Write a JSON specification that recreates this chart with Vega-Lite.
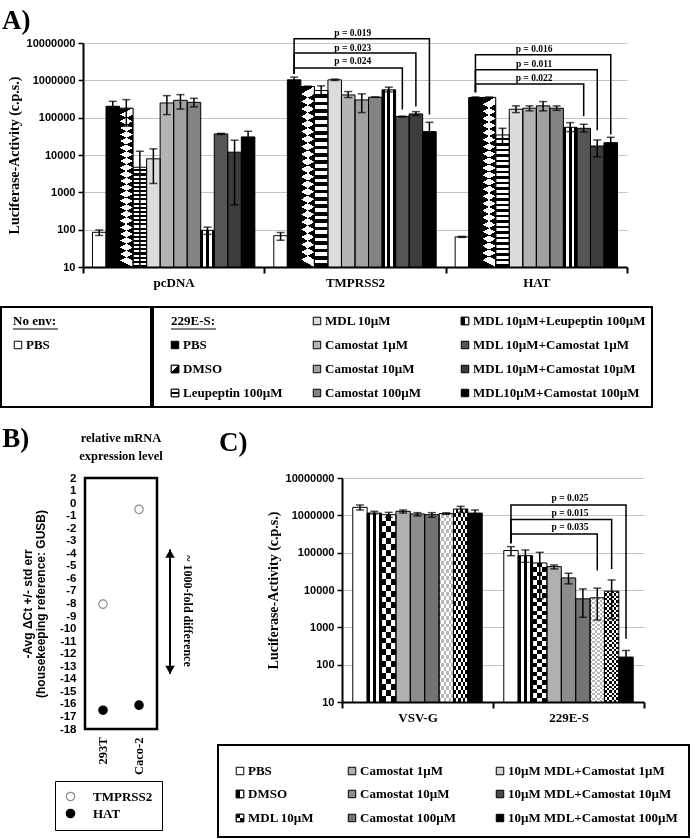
{
"$schema":"https://vega.github.io/schema/vega-lite/v6.json",
"background":"white",
"padding":{"left":0,"top":7,"right":2,"bottom":2},
"spacing":17,
"resolve":{"scale":{"fill":"independent","stroke":"independent","xOffset":"independent"}},
"config":{
 "view":{"stroke":null},
 "font":"Liberation Serif",
 "axis":{"labelColor":"black","titleColor":"black","domainColor":"black","tickColor":"black","labelFontWeight":"bold","titleFontWeight":"bold"},
 "title":{"color":"black","fontWeight":"bold","font":"Liberation Serif"},
 "legend":{"labelColor":"black"}
},
"datasets":{
 "A":[
  {"group":"pcDNA","trt":"t01","value":85,"lo":70,"hi":98},
  {"group":"pcDNA","trt":"t02","value":202000,"lo":148000,"hi":274000},
  {"group":"pcDNA","trt":"t03","value":180000,"lo":59000,"hi":304000},
  {"group":"pcDNA","trt":"t04","value":4700,"lo":10,"hi":12600},
  {"group":"pcDNA","trt":"t05","value":7900,"lo":1730,"hi":14600},
  {"group":"pcDNA","trt":"t06","value":248000,"lo":121000,"hi":389000},
  {"group":"pcDNA","trt":"t07","value":292000,"lo":170000,"hi":414000},
  {"group":"pcDNA","trt":"t08","value":258000,"lo":194000,"hi":330000},
  {"group":"pcDNA","trt":"t09","value":96,"lo":75,"hi":117},
  {"group":"pcDNA","trt":"t10","value":36700,"lo":35500,"hi":38000},
  {"group":"pcDNA","trt":"t11","value":11900,"lo":460,"hi":24900},
  {"group":"pcDNA","trt":"t12","value":30500,"lo":21100,"hi":43300},
  {"group":"TMPRSS2","trt":"t01","value":69,"lo":52,"hi":84},
  {"group":"TMPRSS2","trt":"t02","value":1030000,"lo":891000,"hi":1217000},
  {"group":"TMPRSS2","trt":"t03","value":682000,"lo":665000,"hi":700000},
  {"group":"TMPRSS2","trt":"t04","value":533000,"lo":407000,"hi":711000},
  {"group":"TMPRSS2","trt":"t05","value":1030000,"lo":990000,"hi":1080000},
  {"group":"TMPRSS2","trt":"t06","value":407000,"lo":346000,"hi":500000},
  {"group":"TMPRSS2","trt":"t07","value":299000,"lo":137000,"hi":434000},
  {"group":"TMPRSS2","trt":"t08","value":353000,"lo":353000,"hi":353000},
  {"group":"TMPRSS2","trt":"t09","value":556000,"lo":491000,"hi":655000},
  {"group":"TMPRSS2","trt":"t10","value":107000,"lo":104000,"hi":110000},
  {"group":"TMPRSS2","trt":"t11","value":126000,"lo":114000,"hi":145000},
  {"group":"TMPRSS2","trt":"t12","value":42300,"lo":24200,"hi":75200},
  {"group":"HAT","trt":"t01","value":64,"lo":62,"hi":66},
  {"group":"HAT","trt":"t02","value":346000,"lo":335000,"hi":360000},
  {"group":"HAT","trt":"t03","value":350000,"lo":345000,"hi":355000},
  {"group":"HAT","trt":"t04","value":34400,"lo":18500,"hi":51900},
  {"group":"HAT","trt":"t05","value":168000,"lo":137000,"hi":207000},
  {"group":"HAT","trt":"t06","value":179000,"lo":152000,"hi":207000},
  {"group":"HAT","trt":"t07","value":207000,"lo":152000,"hi":270000},
  {"group":"HAT","trt":"t08","value":179000,"lo":157000,"hi":207000},
  {"group":"HAT","trt":"t09","value":55200,"lo":42300,"hi":73600},
  {"group":"HAT","trt":"t10","value":51900,"lo":41400,"hi":66500},
  {"group":"HAT","trt":"t11","value":17400,"lo":9000,"hi":25200},
  {"group":"HAT","trt":"t12","value":21400,"lo":16700,"hi":29800}
 ],
 "Abr":[
  {"br":"T1","group":"TMPRSS2","trt":"t02","value":1510000,"ord":1},
  {"br":"T1","group":"TMPRSS2","trt":"t02","value":2150000,"ord":2},
  {"br":"T1","group":"TMPRSS2","trt":"t10","value":2150000,"ord":3},
  {"br":"T1","group":"TMPRSS2","trt":"t10","value":165000,"ord":4},
  {"br":"T2","group":"TMPRSS2","trt":"t02","value":1510000,"ord":1},
  {"br":"T2","group":"TMPRSS2","trt":"t02","value":5410000,"ord":2},
  {"br":"T2","group":"TMPRSS2","trt":"t11","value":5410000,"ord":3},
  {"br":"T2","group":"TMPRSS2","trt":"t11","value":198000,"ord":4},
  {"br":"T3","group":"TMPRSS2","trt":"t02","value":1510000,"ord":1},
  {"br":"T3","group":"TMPRSS2","trt":"t02","value":13000000,"ord":2},
  {"br":"T3","group":"TMPRSS2","trt":"t12","value":13000000,"ord":3},
  {"br":"T3","group":"TMPRSS2","trt":"t12","value":121000,"ord":4},
  {"br":"H1","group":"HAT","trt":"t02","value":478000,"ord":1},
  {"br":"H1","group":"HAT","trt":"t02","value":801000,"ord":2},
  {"br":"H1","group":"HAT","trt":"t10","value":801000,"ord":3},
  {"br":"H1","group":"HAT","trt":"t10","value":109000,"ord":4},
  {"br":"H2","group":"HAT","trt":"t02","value":478000,"ord":1},
  {"br":"H2","group":"HAT","trt":"t02","value":1930000,"ord":2},
  {"br":"H2","group":"HAT","trt":"t11","value":1930000,"ord":3},
  {"br":"H2","group":"HAT","trt":"t11","value":46000,"ord":4},
  {"br":"H3","group":"HAT","trt":"t02","value":478000,"ord":1},
  {"br":"H3","group":"HAT","trt":"t02","value":4860000,"ord":2},
  {"br":"H3","group":"HAT","trt":"t12","value":4860000,"ord":3},
  {"br":"H3","group":"HAT","trt":"t12","value":35300,"ord":4}
 ],
 "Ap":[
  {"group":"TMPRSS2","trt":"t07","value":3220000,"label":"p = 0.024"},
  {"group":"TMPRSS2","trt":"t07","value":7350000,"label":"p = 0.023"},
  {"group":"TMPRSS2","trt":"t07","value":18500000,"label":"p = 0.019"},
  {"group":"HAT","trt":"t07","value":1160000,"label":"p = 0.022"},
  {"group":"HAT","trt":"t07","value":2800000,"label":"p = 0.011"},
  {"group":"HAT","trt":"t07","value":6920000,"label":"p = 0.016"}
 ],
 "C":[
  {"group":"VSV-G","trt":"c01","value":1640000,"lo":1390000,"hi":1890000},
  {"group":"VSV-G","trt":"c02","value":1150000,"lo":1090000,"hi":1280000},
  {"group":"VSV-G","trt":"c03","value":1040000,"lo":885000,"hi":1200000},
  {"group":"VSV-G","trt":"c04","value":1280000,"lo":1150000,"hi":1390000},
  {"group":"VSV-G","trt":"c05","value":1087000,"lo":960000,"hi":1180000},
  {"group":"VSV-G","trt":"c06","value":1040000,"lo":885000,"hi":1180000},
  {"group":"VSV-G","trt":"c07","value":1110000,"lo":1060000,"hi":1170000},
  {"group":"VSV-G","trt":"c08","value":1476000,"lo":1200000,"hi":1740000},
  {"group":"VSV-G","trt":"c09","value":1150000,"lo":960000,"hi":1390000},
  {"group":"229E-S","trt":"c01","value":114000,"lo":83000,"hi":145000},
  {"group":"229E-S","trt":"c02","value":83000,"lo":55300,"hi":118000},
  {"group":"229E-S","trt":"c03","value":53000,"lo":5800,"hi":102000},
  {"group":"229E-S","trt":"c04","value":42400,"lo":36700,"hi":47000},
  {"group":"229E-S","trt":"c05","value":21100,"lo":14600,"hi":28100},
  {"group":"229E-S","trt":"c06","value":5800,"lo":1860,"hi":10700},
  {"group":"229E-S","trt":"c07","value":6170,"lo":1580,"hi":11200},
  {"group":"229E-S","trt":"c08","value":9300,"lo":1690,"hi":18600},
  {"group":"229E-S","trt":"c09","value":160,"lo":80,"hi":240}
 ],
 "Cbr":[
  {"br":"C1","group":"229E-S","trt":"c01","value":179000,"ord":1},
  {"br":"C1","group":"229E-S","trt":"c01","value":318000,"ord":2},
  {"br":"C1","group":"229E-S","trt":"c07","value":318000,"ord":3},
  {"br":"C1","group":"229E-S","trt":"c07","value":33400,"ord":4},
  {"br":"C2","group":"229E-S","trt":"c01","value":179000,"ord":1},
  {"br":"C2","group":"229E-S","trt":"c01","value":772000,"ord":2},
  {"br":"C2","group":"229E-S","trt":"c08","value":772000,"ord":3},
  {"br":"C2","group":"229E-S","trt":"c08","value":36800,"ord":4},
  {"br":"C3","group":"229E-S","trt":"c01","value":179000,"ord":1},
  {"br":"C3","group":"229E-S","trt":"c01","value":1900000,"ord":2},
  {"br":"C3","group":"229E-S","trt":"c09","value":1900000,"ord":3},
  {"br":"C3","group":"229E-S","trt":"c09","value":493,"ord":4}
 ],
 "Cp":[
  {"group":"229E-S","trt":"c05","value":481000,"label":"p = 0.035"},
  {"group":"229E-S","trt":"c05","value":1140000,"label":"p = 0.015"},
  {"group":"229E-S","trt":"c05","value":2870000,"label":"p = 0.025"}
 ],
 "B":[
  {"cell":"293T","gene":"TMPRSS2","value":-8.05,"lo":-8.35,"hi":-7.75},
  {"cell":"293T","gene":"HAT","value":-16.5,"lo":-16.6,"hi":-16.4},
  {"cell":"Caco-2","gene":"TMPRSS2","value":-0.5,"lo":-0.6,"hi":-0.4},
  {"cell":"Caco-2","gene":"HAT","value":-16.1,"lo":-16.4,"hi":-15.8}
 ],
 "Barrow":[
  {"part":"arrow","top":-3.7,"bottom":-13.6},
  {"part":"label","mid":-8.6,"text":"~ 1000-fold difference"}
 ],
 "LA1":[
  {"col":0,"row":0,"label":"No env:","kind":"header"},
  {"col":0,"row":1,"label":"PBS","kind":"item","trt":"t01"}
 ],
 "LA2":[
  {"col":0,"row":0,"label":"229E-S:","kind":"header"},
  {"col":0,"row":1,"label":"PBS","kind":"item","trt":"t02"},
  {"col":0,"row":2,"label":"DMSO","kind":"item","trt":"t03"},
  {"col":0,"row":3,"label":"Leupeptin 100µM","kind":"item","trt":"t04"},
  {"col":1,"row":0,"label":"MDL  10µM","kind":"item","trt":"t05"},
  {"col":1,"row":1,"label":"Camostat 1µM","kind":"item","trt":"t06"},
  {"col":1,"row":2,"label":"Camostat 10µM","kind":"item","trt":"t07"},
  {"col":1,"row":3,"label":"Camostat 100µM","kind":"item","trt":"t08"},
  {"col":2,"row":0,"label":"MDL 10µM+Leupeptin 100µM","kind":"item","trt":"t09"},
  {"col":2,"row":1,"label":"MDL 10µM+Camostat 1µM","kind":"item","trt":"t10"},
  {"col":2,"row":2,"label":"MDL 10µM+Camostat 10µM","kind":"item","trt":"t11"},
  {"col":2,"row":3,"label":"MDL10µM+Camostat 100µM","kind":"item","trt":"t12"}
 ],
 "LC":[
  {"col":0,"row":0,"label":"PBS","trt":"c01"},
  {"col":0,"row":1,"label":"DMSO","trt":"c02"},
  {"col":0,"row":2,"label":"MDL 10µM","trt":"c03"},
  {"col":1,"row":0,"label":"Camostat 1µM","trt":"c04"},
  {"col":1,"row":1,"label":"Camostat 10µM","trt":"c05"},
  {"col":1,"row":2,"label":"Camostat 100µM","trt":"c06"},
  {"col":2,"row":0,"label":"10µM MDL+Camostat 1µM","trt":"c07"},
  {"col":2,"row":1,"label":"10µM MDL+Camostat 10µM","trt":"c08"},
  {"col":2,"row":2,"label":"10µM MDL+Camostat 100µM","trt":"c09"}
 ]
},
"vconcat":[
 {
  "spacing":0,
  "hconcat":[
   {"width":1,"height":1,"data":{"values":[]},"mark":{"type":"point","opacity":0}},
   {
    "width":544,"height":224,
    "title":{"text":"A)","anchor":"start","frame":"bounds","fontSize":27,"dx":-5,"offset":-7},
    "encoding":{
     "x":{"field":"group","type":"nominal","title":null,"scale":{"domain":["pcDNA","TMPRSS2","HAT"],"paddingInner":0,"paddingOuter":0},"axis":{"labelAngle":0,"labelFont":"Liberation Serif","labelFontSize":13,"labelPadding":3,"tickBand":"extent","tickSize":6,"tickWidth":2,"domainWidth":2,"grid":false}},
     "xOffset":{"field":"trt","type":"nominal","scale":{"domain":["t01","t02","t03","t04","t05","t06","t07","t08","t09","t10","t11","t12"],"paddingInner":0,"paddingOuter":0.7}}
    },
    "layer":[
     {"data":{"name":"A"},"mark":{"type":"bar","strokeWidth":0},"encoding":{"y":{"field":"value","type":"quantitative","title":"Luciferase-Activity (c.p.s.)","scale":{"type":"log","domain":[10,10000000]},"axis":{"values":[10,100,1000,10000,100000,1000000,10000000],"format":"d","labelFont":"Liberation Sans","labelFontSize":11,"labelPadding":3,"tickSize":5,"tickWidth":1.5,"domainWidth":2,"grid":true,"gridColor":"#c4c4c4","titleFont":"Liberation Serif","titleFontSize":14,"titlePadding":5}},"y2":{"datum":10},"fill":{"field":"trt","type":"nominal","legend":null,"scale":{"domain":["t01","t02","t03","t04","t05","t06","t07","t08","t09","t10","t11","t12"],"range":["#ffffff","#000000","#000000","#ffffff","#dcdcdc","#b4b4b4","#a0a0a0","#838383","#ffffff","#555555","#3c3c3c","#000000"]}}}},
     {"data":{"name":"A"},"transform":[{"filter":"datum.trt === 't03'"}],"mark":{"type":"bar","strokeWidth":0,"fill":{"gradient":"linear","x1":0,"y1":0,"x2":0.043,"y2":1,"stops":[{"offset":0,"color":"#fff"},{"offset":0.0417,"color":"#fff"},{"offset":0.0417,"color":"#000"},{"offset":0.0833,"color":"#000"},{"offset":0.0833,"color":"#fff"},{"offset":0.125,"color":"#fff"},{"offset":0.125,"color":"#000"},{"offset":0.1667,"color":"#000"},{"offset":0.1667,"color":"#fff"},{"offset":0.2083,"color":"#fff"},{"offset":0.2083,"color":"#000"},{"offset":0.25,"color":"#000"},{"offset":0.25,"color":"#fff"},{"offset":0.2917,"color":"#fff"},{"offset":0.2917,"color":"#000"},{"offset":0.3333,"color":"#000"},{"offset":0.3333,"color":"#fff"},{"offset":0.375,"color":"#fff"},{"offset":0.375,"color":"#000"},{"offset":0.4167,"color":"#000"},{"offset":0.4167,"color":"#fff"},{"offset":0.4583,"color":"#fff"},{"offset":0.4583,"color":"#000"},{"offset":0.5,"color":"#000"},{"offset":0.5,"color":"#fff"},{"offset":0.5417,"color":"#fff"},{"offset":0.5417,"color":"#000"},{"offset":0.5833,"color":"#000"},{"offset":0.5833,"color":"#fff"},{"offset":0.625,"color":"#fff"},{"offset":0.625,"color":"#000"},{"offset":0.6667,"color":"#000"},{"offset":0.6667,"color":"#fff"},{"offset":0.7083,"color":"#fff"},{"offset":0.7083,"color":"#000"},{"offset":0.75,"color":"#000"},{"offset":0.75,"color":"#fff"},{"offset":0.7917,"color":"#fff"},{"offset":0.7917,"color":"#000"},{"offset":0.8333,"color":"#000"},{"offset":0.8333,"color":"#fff"},{"offset":0.875,"color":"#fff"},{"offset":0.875,"color":"#000"},{"offset":0.9167,"color":"#000"},{"offset":0.9167,"color":"#fff"},{"offset":0.9583,"color":"#fff"},{"offset":0.9583,"color":"#000"},{"offset":1,"color":"#000"}]}},"encoding":{"y":{"field":"value","type":"quantitative","title":"Luciferase-Activity (c.p.s.)"},"y2":{"datum":10}}},
     {"data":{"name":"A"},"transform":[{"filter":"datum.trt === 't03'"}],"mark":{"type":"bar","strokeWidth":0,"blend":"difference","fill":{"gradient":"linear","x1":0.043,"y1":0,"x2":0,"y2":1,"stops":[{"offset":0,"color":"#fff"},{"offset":0.0417,"color":"#fff"},{"offset":0.0417,"color":"#000"},{"offset":0.0833,"color":"#000"},{"offset":0.0833,"color":"#fff"},{"offset":0.125,"color":"#fff"},{"offset":0.125,"color":"#000"},{"offset":0.1667,"color":"#000"},{"offset":0.1667,"color":"#fff"},{"offset":0.2083,"color":"#fff"},{"offset":0.2083,"color":"#000"},{"offset":0.25,"color":"#000"},{"offset":0.25,"color":"#fff"},{"offset":0.2917,"color":"#fff"},{"offset":0.2917,"color":"#000"},{"offset":0.3333,"color":"#000"},{"offset":0.3333,"color":"#fff"},{"offset":0.375,"color":"#fff"},{"offset":0.375,"color":"#000"},{"offset":0.4167,"color":"#000"},{"offset":0.4167,"color":"#fff"},{"offset":0.4583,"color":"#fff"},{"offset":0.4583,"color":"#000"},{"offset":0.5,"color":"#000"},{"offset":0.5,"color":"#fff"},{"offset":0.5417,"color":"#fff"},{"offset":0.5417,"color":"#000"},{"offset":0.5833,"color":"#000"},{"offset":0.5833,"color":"#fff"},{"offset":0.625,"color":"#fff"},{"offset":0.625,"color":"#000"},{"offset":0.6667,"color":"#000"},{"offset":0.6667,"color":"#fff"},{"offset":0.7083,"color":"#fff"},{"offset":0.7083,"color":"#000"},{"offset":0.75,"color":"#000"},{"offset":0.75,"color":"#fff"},{"offset":0.7917,"color":"#fff"},{"offset":0.7917,"color":"#000"},{"offset":0.8333,"color":"#000"},{"offset":0.8333,"color":"#fff"},{"offset":0.875,"color":"#fff"},{"offset":0.875,"color":"#000"},{"offset":0.9167,"color":"#000"},{"offset":0.9167,"color":"#fff"},{"offset":0.9583,"color":"#fff"},{"offset":0.9583,"color":"#000"},{"offset":1,"color":"#000"}]}},"encoding":{"y":{"field":"value","type":"quantitative","title":"Luciferase-Activity (c.p.s.)"},"y2":{"datum":10}}},
     {"data":{"name":"A"},"transform":[{"filter":"datum.trt === 't04'"}],"mark":{"type":"bar","strokeWidth":0,"fill":{"gradient":"linear","x1":0,"y1":0,"x2":0,"y2":1,"stops":[{"offset":0,"color":"#fff"},{"offset":0.0208,"color":"#fff"},{"offset":0.0208,"color":"#000"},{"offset":0.0417,"color":"#000"},{"offset":0.0417,"color":"#fff"},{"offset":0.0625,"color":"#fff"},{"offset":0.0625,"color":"#000"},{"offset":0.0833,"color":"#000"},{"offset":0.0833,"color":"#fff"},{"offset":0.1042,"color":"#fff"},{"offset":0.1042,"color":"#000"},{"offset":0.125,"color":"#000"},{"offset":0.125,"color":"#fff"},{"offset":0.1458,"color":"#fff"},{"offset":0.1458,"color":"#000"},{"offset":0.1667,"color":"#000"},{"offset":0.1667,"color":"#fff"},{"offset":0.1875,"color":"#fff"},{"offset":0.1875,"color":"#000"},{"offset":0.2083,"color":"#000"},{"offset":0.2083,"color":"#fff"},{"offset":0.2292,"color":"#fff"},{"offset":0.2292,"color":"#000"},{"offset":0.25,"color":"#000"},{"offset":0.25,"color":"#fff"},{"offset":0.2708,"color":"#fff"},{"offset":0.2708,"color":"#000"},{"offset":0.2917,"color":"#000"},{"offset":0.2917,"color":"#fff"},{"offset":0.3125,"color":"#fff"},{"offset":0.3125,"color":"#000"},{"offset":0.3333,"color":"#000"},{"offset":0.3333,"color":"#fff"},{"offset":0.3542,"color":"#fff"},{"offset":0.3542,"color":"#000"},{"offset":0.375,"color":"#000"},{"offset":0.375,"color":"#fff"},{"offset":0.3958,"color":"#fff"},{"offset":0.3958,"color":"#000"},{"offset":0.4167,"color":"#000"},{"offset":0.4167,"color":"#fff"},{"offset":0.4375,"color":"#fff"},{"offset":0.4375,"color":"#000"},{"offset":0.4583,"color":"#000"},{"offset":0.4583,"color":"#fff"},{"offset":0.4792,"color":"#fff"},{"offset":0.4792,"color":"#000"},{"offset":0.5,"color":"#000"},{"offset":0.5,"color":"#fff"},{"offset":0.5208,"color":"#fff"},{"offset":0.5208,"color":"#000"},{"offset":0.5417,"color":"#000"},{"offset":0.5417,"color":"#fff"},{"offset":0.5625,"color":"#fff"},{"offset":0.5625,"color":"#000"},{"offset":0.5833,"color":"#000"},{"offset":0.5833,"color":"#fff"},{"offset":0.6042,"color":"#fff"},{"offset":0.6042,"color":"#000"},{"offset":0.625,"color":"#000"},{"offset":0.625,"color":"#fff"},{"offset":0.6458,"color":"#fff"},{"offset":0.6458,"color":"#000"},{"offset":0.6667,"color":"#000"},{"offset":0.6667,"color":"#fff"},{"offset":0.6875,"color":"#fff"},{"offset":0.6875,"color":"#000"},{"offset":0.7083,"color":"#000"},{"offset":0.7083,"color":"#fff"},{"offset":0.7292,"color":"#fff"},{"offset":0.7292,"color":"#000"},{"offset":0.75,"color":"#000"},{"offset":0.75,"color":"#fff"},{"offset":0.7708,"color":"#fff"},{"offset":0.7708,"color":"#000"},{"offset":0.7917,"color":"#000"},{"offset":0.7917,"color":"#fff"},{"offset":0.8125,"color":"#fff"},{"offset":0.8125,"color":"#000"},{"offset":0.8333,"color":"#000"},{"offset":0.8333,"color":"#fff"},{"offset":0.8542,"color":"#fff"},{"offset":0.8542,"color":"#000"},{"offset":0.875,"color":"#000"},{"offset":0.875,"color":"#fff"},{"offset":0.8958,"color":"#fff"},{"offset":0.8958,"color":"#000"},{"offset":0.9167,"color":"#000"},{"offset":0.9167,"color":"#fff"},{"offset":0.9375,"color":"#fff"},{"offset":0.9375,"color":"#000"},{"offset":0.9583,"color":"#000"},{"offset":0.9583,"color":"#fff"},{"offset":0.9792,"color":"#fff"},{"offset":0.9792,"color":"#000"},{"offset":1,"color":"#000"}]}},"encoding":{"y":{"field":"value","type":"quantitative","title":"Luciferase-Activity (c.p.s.)"},"y2":{"datum":10}}},
     {"data":{"name":"A"},"transform":[{"filter":"datum.trt === 't09'"}],"mark":{"type":"bar","strokeWidth":0,"fill":{"gradient":"linear","x1":0,"y1":0,"x2":1,"y2":0,"stops":[{"offset":0,"color":"#000"},{"offset":0.2,"color":"#000"},{"offset":0.2,"color":"#fff"},{"offset":0.4,"color":"#fff"},{"offset":0.4,"color":"#000"},{"offset":0.6,"color":"#000"},{"offset":0.6,"color":"#fff"},{"offset":0.8,"color":"#fff"},{"offset":0.8,"color":"#000"},{"offset":1,"color":"#000"}]}},"encoding":{"y":{"field":"value","type":"quantitative","title":"Luciferase-Activity (c.p.s.)"},"y2":{"datum":10}}},
     {"data":{"name":"A"},"mark":{"type":"bar","fillOpacity":0,"stroke":"black","strokeWidth":1},"encoding":{"y":{"field":"value","type":"quantitative","title":"Luciferase-Activity (c.p.s.)"},"y2":{"datum":10}}},
     {"data":{"name":"A"},"mark":{"type":"rule","color":"black","strokeWidth":1.5},"encoding":{"y":{"field":"lo","type":"quantitative","title":"Luciferase-Activity (c.p.s.)"},"y2":{"field":"hi"}}},
     {"data":{"name":"A"},"mark":{"type":"tick","orient":"horizontal","color":"black","size":8,"thickness":1.5},"encoding":{"y":{"field":"hi","type":"quantitative","title":"Luciferase-Activity (c.p.s.)"}}},
     {"data":{"name":"A"},"transform":[{"filter":"datum.lo > 10"}],"mark":{"type":"tick","orient":"horizontal","color":"black","size":8,"thickness":1.5},"encoding":{"y":{"field":"lo","type":"quantitative","title":"Luciferase-Activity (c.p.s.)"}}},
     {"data":{"name":"Abr"},"mark":{"type":"line","color":"black","strokeWidth":1.5},"encoding":{"y":{"field":"value","type":"quantitative","title":"Luciferase-Activity (c.p.s.)"},"order":{"field":"ord","type":"quantitative"},"detail":{"field":"br","type":"nominal"}}},
     {"data":{"name":"Ap"},"mark":{"type":"text","color":"black","font":"Liberation Serif","fontSize":9.5,"fontWeight":"bold","dx":-9,"baseline":"middle"},"encoding":{"y":{"field":"value","type":"quantitative","title":"Luciferase-Activity (c.p.s.)"},"text":{"field":"label"}}}
    ]
   }
  ]
 },
 {
  "hconcat":[
   {
    "width":150,"height":100,
    "view":{"stroke":"black","strokeWidth":2},
    "data":{"name":"LA1"},
    "encoding":{
     "x":{"field":"col","type":"quantitative","scale":{"domain":[0,1],"range":[13,150]},"axis":null},
     "y":{"field":"row","type":"quantitative","scale":{"domain":[0,3],"range":[14,86]},"axis":null}
    },
    "layer":[
     {"transform":[{"filter":"datum.kind === 'header'"}],"mark":{"type":"text","align":"left","baseline":"middle","dx":-1,"font":"Liberation Serif","fontSize":13,"fontWeight":"bold","color":"black"},"encoding":{"text":{"field":"label"}}},
     {"transform":[{"filter":"datum.kind === 'header'"}],"mark":{"type":"rule","color":"black","strokeWidth":1.2,"xOffset":-1,"x2Offset":44,"yOffset":8},"encoding":{"x2":{"field":"col"}}},
     {"transform":[{"filter":"datum.kind === 'item'"}],"mark":{"type":"square","size":56,"xOffset":4,"stroke":"black","strokeWidth":1,"opacity":1},"encoding":{"fill":{"field":"trt","type":"nominal","legend":null,"scale":{"domain":["t01","t02","t03","t04","t05","t06","t07","t08","t09","t10","t11","t12"],"range":["#ffffff","#000000","#000000","#ffffff","#dcdcdc","#b4b4b4","#a0a0a0","#838383","#ffffff","#555555","#3c3c3c","#000000"]}}}},
     {"transform":[{"filter":"datum.kind === 'item'"}],"mark":{"type":"text","align":"left","baseline":"middle","dx":12,"font":"Liberation Serif","fontSize":13,"fontWeight":"bold","color":"black"},"encoding":{"text":{"field":"label"}}}
    ]
   },
   {
    "width":499,"height":100,
    "view":{"stroke":"black","strokeWidth":2},
    "data":{"name":"LA2"},
    "encoding":{
     "x":{"field":"col","type":"quantitative","scale":{"domain":[0,1,2],"range":[18,160,308]},"axis":null},
     "y":{"field":"row","type":"quantitative","scale":{"domain":[0,3],"range":[14,86]},"axis":null}
    },
    "layer":[
     {"transform":[{"filter":"datum.kind === 'header'"}],"mark":{"type":"text","align":"left","baseline":"middle","font":"Liberation Serif","fontSize":13,"fontWeight":"bold","color":"black"},"encoding":{"text":{"field":"label"}}},
     {"transform":[{"filter":"datum.kind === 'header'"}],"mark":{"type":"rule","color":"black","strokeWidth":1.2,"x2Offset":45,"yOffset":8},"encoding":{"x2":{"field":"col"}}},
     {"transform":[{"filter":"datum.kind === 'item'"}],"mark":{"type":"square","size":56,"xOffset":4,"stroke":"black","strokeWidth":1,"opacity":1},"encoding":{"fill":{"field":"trt","type":"nominal","legend":null,"scale":{"domain":["t01","t02","t03","t04","t05","t06","t07","t08","t09","t10","t11","t12"],"range":["#ffffff","#000000","#000000","#ffffff","#dcdcdc","#b4b4b4","#a0a0a0","#838383","#ffffff","#555555","#3c3c3c","#000000"]}}}},
     {"transform":[{"filter":"datum.trt === 't03'"}],"mark":{"type":"square","size":56,"xOffset":4,"stroke":"black","strokeWidth":1,"opacity":1,"fill":{"gradient":"linear","x1":0,"y1":0,"x2":1,"y2":1,"stops":[{"offset":0,"color":"#fff"},{"offset":0.5,"color":"#fff"},{"offset":0.5,"color":"#000"},{"offset":1,"color":"#000"}]}}},
     {"transform":[{"filter":"datum.trt === 't04'"}],"mark":{"type":"square","size":56,"xOffset":4,"stroke":"black","strokeWidth":1,"opacity":1,"fill":{"gradient":"linear","x1":0,"y1":0,"x2":0,"y2":1,"stops":[{"offset":0,"color":"#fff"},{"offset":0.36,"color":"#fff"},{"offset":0.36,"color":"#000"},{"offset":0.64,"color":"#000"},{"offset":0.64,"color":"#fff"},{"offset":1,"color":"#fff"}]}}},
     {"transform":[{"filter":"datum.trt === 't09'"}],"mark":{"type":"square","size":56,"xOffset":4,"stroke":"black","strokeWidth":1,"opacity":1,"fill":{"gradient":"linear","x1":0,"y1":0,"x2":1,"y2":0,"stops":[{"offset":0,"color":"#000"},{"offset":0.5,"color":"#000"},{"offset":0.5,"color":"#fff"},{"offset":1,"color":"#fff"}]}}},
     {"transform":[{"filter":"datum.kind === 'item'"}],"mark":{"type":"text","align":"left","baseline":"middle","dx":12,"font":"Liberation Serif","fontSize":13,"fontWeight":"bold","color":"black"},"encoding":{"text":{"field":"label"}}}
    ]
   }
  ],
  "spacing":0
 },
 {
  "spacing":0,
  "hconcat":[
   {"width":1,"height":1,"data":{"values":[]},"mark":{"type":"point","opacity":0}},
   {
    "spacing":20,
    "resolve":{"scale":{"fill":"independent","stroke":"independent","xOffset":"independent"}},
    "hconcat":[
     {
      "title":{"text":"B)","anchor":"start","frame":"bounds","fontSize":27,"dx":-18,"offset":-23},
      "bounds":"flush",
      "spacing":4,
      "hconcat":[
       {
        "width":72,"height":251,
        "view":{"stroke":"black","strokeWidth":2.5},
        "title":{"text":["relative mRNA","expression level"],"anchor":"middle","fontSize":12.5,"lineHeight":18,"offset":10},
        "data":{"name":"B"},
        "encoding":{"x":{"field":"cell","type":"nominal","title":null,"scale":{"domain":["293T","Caco-2"],"paddingInner":0,"paddingOuter":0},"axis":{"labelAngle":-90,"labelFont":"Liberation Serif","labelFontSize":12.5,"labelPadding":8,"ticks":false,"domain":false,"grid":false}}},
        "layer":[
         {"mark":{"type":"rule","color":"#8c8c8c","strokeWidth":1},"encoding":{"y":{"field":"lo","type":"quantitative","title":["-Avg ΔCt +/- std err","(housekeeping reference: GUSB)"],"scale":{"domain":[-18,2],"nice":false,"zero":false},"axis":{"values":[2,1,0,-1,-2,-3,-4,-5,-6,-7,-8,-9,-10,-11,-12,-13,-14,-15,-16,-17,-18],"labelExpr":"replace(datum.label, '\u2212', '-')","labelFont":"Liberation Sans","labelFontSize":11.5,"labelPadding":9,"ticks":false,"tickSize":0,"domain":false,"grid":false,"labelOverlap":false,"labelFlush":false,"labelBound":false,"titleFont":"Liberation Sans","titleFontSize":12,"titleLineHeight":13,"titlePadding":12}},"y2":{"field":"hi"}}},
         {"mark":{"type":"tick","orient":"horizontal","color":"#8c8c8c","size":6,"thickness":1},"encoding":{"y":{"field":"hi","type":"quantitative","title":["-Avg ΔCt +/- std err","(housekeeping reference: GUSB)"],"axis":{"values":[2,1,0,-1,-2,-3,-4,-5,-6,-7,-8,-9,-10,-11,-12,-13,-14,-15,-16,-17,-18],"labelExpr":"replace(datum.label, '\u2212', '-')","labelFont":"Liberation Sans","labelFontSize":11.5,"labelPadding":9,"ticks":false,"tickSize":0,"domain":false,"grid":false,"labelOverlap":false,"labelFlush":false,"labelBound":false,"titleFont":"Liberation Sans","titleFontSize":12,"titleLineHeight":13,"titlePadding":12}}}},
         {"mark":{"type":"tick","orient":"horizontal","color":"#8c8c8c","size":6,"thickness":1},"encoding":{"y":{"field":"lo","type":"quantitative","title":["-Avg ΔCt +/- std err","(housekeeping reference: GUSB)"],"axis":{"values":[2,1,0,-1,-2,-3,-4,-5,-6,-7,-8,-9,-10,-11,-12,-13,-14,-15,-16,-17,-18],"labelExpr":"replace(datum.label, '\u2212', '-')","labelFont":"Liberation Sans","labelFontSize":11.5,"labelPadding":9,"ticks":false,"tickSize":0,"domain":false,"grid":false,"labelOverlap":false,"labelFlush":false,"labelBound":false,"titleFont":"Liberation Sans","titleFontSize":12,"titleLineHeight":13,"titlePadding":12}}}},
         {"mark":{"type":"point","shape":"circle","size":70,"filled":true,"opacity":1,"strokeWidth":1.2},"encoding":{"y":{"field":"value","type":"quantitative","title":["-Avg ΔCt +/- std err","(housekeeping reference: GUSB)"],"axis":{"values":[2,1,0,-1,-2,-3,-4,-5,-6,-7,-8,-9,-10,-11,-12,-13,-14,-15,-16,-17,-18],"labelExpr":"replace(datum.label, '\u2212', '-')","labelFont":"Liberation Sans","labelFontSize":11.5,"labelPadding":9,"ticks":false,"tickSize":0,"domain":false,"grid":false,"labelOverlap":false,"labelFlush":false,"labelBound":false,"titleFont":"Liberation Sans","titleFontSize":12,"titleLineHeight":13,"titlePadding":12}},
          "fill":{"field":"gene","type":"nominal","scale":{"domain":["TMPRSS2","HAT"],"range":["#ffffff","#000000"]},"legend":{"title":null,"orient":"none","legendX":-30,"legendY":303,"strokeColor":"black","padding":9,"labelFont":"Liberation Serif","labelFontSize":13,"labelFontWeight":"bold","symbolSize":70,"symbolOffset":0,"labelOffset":16,"rowPadding":2,"symbolStrokeWidth":1.2}},
          "stroke":{"field":"gene","type":"nominal","scale":{"domain":["TMPRSS2","HAT"],"range":["#8c8c8c","#000000"]},"legend":{"title":null,"orient":"none","legendX":-30,"legendY":303,"strokeColor":"black","padding":9,"labelFont":"Liberation Serif","labelFontSize":13,"labelFontWeight":"bold","symbolSize":70,"symbolOffset":0,"labelOffset":16,"rowPadding":2,"symbolStrokeWidth":1.2}}}}
        ]
       },
       {
        "width":36,"height":251,
        "data":{"name":"Barrow"},
        "encoding":{"x":{"field":"part","type":"nominal","scale":{"type":"point","domain":["arrow","label"],"padding":0.5},"axis":null}},
        "layer":[
         {"transform":[{"filter":"datum.part === 'arrow'"}],"mark":{"type":"rule","color":"black","strokeWidth":2},"encoding":{"y":{"field":"top","type":"quantitative","scale":{"domain":[-18,2],"nice":false,"zero":false},"axis":null},"y2":{"field":"bottom"}}},
         {"transform":[{"filter":"datum.part === 'arrow'"}],"mark":{"type":"point","shape":"triangle-up","size":90,"filled":true,"color":"black","opacity":1,"yOffset":4},"encoding":{"y":{"field":"top","type":"quantitative","axis":null}}},
         {"transform":[{"filter":"datum.part === 'arrow'"}],"mark":{"type":"point","shape":"triangle-down","size":90,"filled":true,"color":"black","opacity":1,"yOffset":-4},"encoding":{"y":{"field":"bottom","type":"quantitative","axis":null}}},
         {"transform":[{"filter":"datum.part === 'label'"}],"mark":{"type":"text","angle":90,"align":"center","baseline":"middle","font":"Liberation Serif","fontSize":12,"fontWeight":"bold","color":"black"},"encoding":{"y":{"field":"mid","type":"quantitative","axis":null},"text":{"field":"text"}}}
        ]
       }
      ]
     },
     {
      "spacing":20,
      "vconcat":[
       {
        "spacing":0,
        "hconcat":[
         {"width":1,"height":1,"data":{"values":[]},"mark":{"type":"point","opacity":0}},
         {
          "width":302,"height":224,
          "title":{"text":"C)","anchor":"start","frame":"bounds","fontSize":27,"dx":-47,"offset":15},
          "encoding":{
           "x":{"field":"group","type":"nominal","title":null,"scale":{"domain":["VSV-G","229E-S"],"paddingInner":0,"paddingOuter":0},"axis":{"labelAngle":0,"labelFont":"Liberation Serif","labelFontSize":13,"labelPadding":3,"tickBand":"extent","tickSize":6,"tickWidth":2,"domainWidth":2,"grid":false}},
           "xOffset":{"field":"trt","type":"nominal","scale":{"domain":["c01","c02","c03","c04","c05","c06","c07","c08","c09"],"paddingInner":0,"paddingOuter":0.75}}
          },
          "layer":[
           {"data":{"name":"C"},"mark":{"type":"bar","strokeWidth":0},"encoding":{"y":{"field":"value","type":"quantitative","title":"Luciferase-Activity (c.p.s.)","scale":{"type":"log","domain":[10,10000000]},"axis":{"values":[10,100,1000,10000,100000,1000000,10000000],"format":"d","labelFont":"Liberation Sans","labelFontSize":11,"labelPadding":3,"tickSize":5,"tickWidth":1.5,"domainWidth":2,"grid":true,"gridColor":"#c4c4c4","titleFont":"Liberation Serif","titleFontSize":14,"titlePadding":5}},"y2":{"datum":10},"fill":{"field":"trt","type":"nominal","legend":null,"scale":{"domain":["c01","c02","c03","c04","c05","c06","c07","c08","c09"],"range":["#ffffff","#ffffff","#ffffff","#b0b0b0","#8c8c8c","#747474","#d4d4d4","#4a4a4a","#000000"]}}}},
           {"data":{"name":"C"},"transform":[{"filter":"datum.trt === 'c02'"}],"mark":{"type":"bar","strokeWidth":0,"fill":{"gradient":"linear","x1":0,"y1":0,"x2":1,"y2":0,"stops":[{"offset":0,"color":"#000"},{"offset":0.2,"color":"#000"},{"offset":0.2,"color":"#fff"},{"offset":0.4,"color":"#fff"},{"offset":0.4,"color":"#000"},{"offset":0.6,"color":"#000"},{"offset":0.6,"color":"#fff"},{"offset":0.8,"color":"#fff"},{"offset":0.8,"color":"#000"},{"offset":1,"color":"#000"}]}},"encoding":{"y":{"field":"value","type":"quantitative","title":"Luciferase-Activity (c.p.s.)"},"y2":{"datum":10}}},
           {"data":{"name":"C"},"transform":[{"filter":"datum.trt === 'c03'"}],"mark":{"type":"bar","strokeWidth":0,"fill":{"gradient":"linear","x1":0,"y1":0,"x2":0,"y2":1,"stops":[{"offset":0,"color":"#fff"},{"offset":0.03125,"color":"#fff"},{"offset":0.03125,"color":"#000"},{"offset":0.0625,"color":"#000"},{"offset":0.0625,"color":"#fff"},{"offset":0.09375,"color":"#fff"},{"offset":0.09375,"color":"#000"},{"offset":0.125,"color":"#000"},{"offset":0.125,"color":"#fff"},{"offset":0.15625,"color":"#fff"},{"offset":0.15625,"color":"#000"},{"offset":0.1875,"color":"#000"},{"offset":0.1875,"color":"#fff"},{"offset":0.21875,"color":"#fff"},{"offset":0.21875,"color":"#000"},{"offset":0.25,"color":"#000"},{"offset":0.25,"color":"#fff"},{"offset":0.28125,"color":"#fff"},{"offset":0.28125,"color":"#000"},{"offset":0.3125,"color":"#000"},{"offset":0.3125,"color":"#fff"},{"offset":0.34375,"color":"#fff"},{"offset":0.34375,"color":"#000"},{"offset":0.375,"color":"#000"},{"offset":0.375,"color":"#fff"},{"offset":0.40625,"color":"#fff"},{"offset":0.40625,"color":"#000"},{"offset":0.4375,"color":"#000"},{"offset":0.4375,"color":"#fff"},{"offset":0.46875,"color":"#fff"},{"offset":0.46875,"color":"#000"},{"offset":0.5,"color":"#000"},{"offset":0.5,"color":"#fff"},{"offset":0.53125,"color":"#fff"},{"offset":0.53125,"color":"#000"},{"offset":0.5625,"color":"#000"},{"offset":0.5625,"color":"#fff"},{"offset":0.59375,"color":"#fff"},{"offset":0.59375,"color":"#000"},{"offset":0.625,"color":"#000"},{"offset":0.625,"color":"#fff"},{"offset":0.65625,"color":"#fff"},{"offset":0.65625,"color":"#000"},{"offset":0.6875,"color":"#000"},{"offset":0.6875,"color":"#fff"},{"offset":0.71875,"color":"#fff"},{"offset":0.71875,"color":"#000"},{"offset":0.75,"color":"#000"},{"offset":0.75,"color":"#fff"},{"offset":0.78125,"color":"#fff"},{"offset":0.78125,"color":"#000"},{"offset":0.8125,"color":"#000"},{"offset":0.8125,"color":"#fff"},{"offset":0.84375,"color":"#fff"},{"offset":0.84375,"color":"#000"},{"offset":0.875,"color":"#000"},{"offset":0.875,"color":"#fff"},{"offset":0.90625,"color":"#fff"},{"offset":0.90625,"color":"#000"},{"offset":0.9375,"color":"#000"},{"offset":0.9375,"color":"#fff"},{"offset":0.96875,"color":"#fff"},{"offset":0.96875,"color":"#000"},{"offset":1,"color":"#000"}]}},"encoding":{"y":{"field":"value","type":"quantitative","title":"Luciferase-Activity (c.p.s.)"},"y2":{"datum":10}}},
           {"data":{"name":"C"},"transform":[{"filter":"datum.trt === 'c03'"}],"mark":{"type":"bar","strokeWidth":0,"blend":"difference","fill":{"gradient":"linear","x1":0,"y1":0,"x2":1,"y2":0,"stops":[{"offset":0,"color":"#000"},{"offset":0.3333,"color":"#000"},{"offset":0.3333,"color":"#fff"},{"offset":0.6667,"color":"#fff"},{"offset":0.6667,"color":"#000"},{"offset":1,"color":"#000"}]}},"encoding":{"y":{"field":"value","type":"quantitative","title":"Luciferase-Activity (c.p.s.)"},"y2":{"datum":10}}},
           {"data":{"name":"C"},"transform":[{"filter":"datum.trt === 'c07' || datum.trt === 'c08'"}],"mark":{"type":"bar","strokeWidth":0,"fill":{"gradient":"linear","x1":0,"y1":0,"x2":0,"y2":1,"stops":[{"offset":0,"color":"#fff"},{"offset":0.0208,"color":"#fff"},{"offset":0.0208,"color":"#000"},{"offset":0.0417,"color":"#000"},{"offset":0.0417,"color":"#fff"},{"offset":0.0625,"color":"#fff"},{"offset":0.0625,"color":"#000"},{"offset":0.0833,"color":"#000"},{"offset":0.0833,"color":"#fff"},{"offset":0.1042,"color":"#fff"},{"offset":0.1042,"color":"#000"},{"offset":0.125,"color":"#000"},{"offset":0.125,"color":"#fff"},{"offset":0.1458,"color":"#fff"},{"offset":0.1458,"color":"#000"},{"offset":0.1667,"color":"#000"},{"offset":0.1667,"color":"#fff"},{"offset":0.1875,"color":"#fff"},{"offset":0.1875,"color":"#000"},{"offset":0.2083,"color":"#000"},{"offset":0.2083,"color":"#fff"},{"offset":0.2292,"color":"#fff"},{"offset":0.2292,"color":"#000"},{"offset":0.25,"color":"#000"},{"offset":0.25,"color":"#fff"},{"offset":0.2708,"color":"#fff"},{"offset":0.2708,"color":"#000"},{"offset":0.2917,"color":"#000"},{"offset":0.2917,"color":"#fff"},{"offset":0.3125,"color":"#fff"},{"offset":0.3125,"color":"#000"},{"offset":0.3333,"color":"#000"},{"offset":0.3333,"color":"#fff"},{"offset":0.3542,"color":"#fff"},{"offset":0.3542,"color":"#000"},{"offset":0.375,"color":"#000"},{"offset":0.375,"color":"#fff"},{"offset":0.3958,"color":"#fff"},{"offset":0.3958,"color":"#000"},{"offset":0.4167,"color":"#000"},{"offset":0.4167,"color":"#fff"},{"offset":0.4375,"color":"#fff"},{"offset":0.4375,"color":"#000"},{"offset":0.4583,"color":"#000"},{"offset":0.4583,"color":"#fff"},{"offset":0.4792,"color":"#fff"},{"offset":0.4792,"color":"#000"},{"offset":0.5,"color":"#000"},{"offset":0.5,"color":"#fff"},{"offset":0.5208,"color":"#fff"},{"offset":0.5208,"color":"#000"},{"offset":0.5417,"color":"#000"},{"offset":0.5417,"color":"#fff"},{"offset":0.5625,"color":"#fff"},{"offset":0.5625,"color":"#000"},{"offset":0.5833,"color":"#000"},{"offset":0.5833,"color":"#fff"},{"offset":0.6042,"color":"#fff"},{"offset":0.6042,"color":"#000"},{"offset":0.625,"color":"#000"},{"offset":0.625,"color":"#fff"},{"offset":0.6458,"color":"#fff"},{"offset":0.6458,"color":"#000"},{"offset":0.6667,"color":"#000"},{"offset":0.6667,"color":"#fff"},{"offset":0.6875,"color":"#fff"},{"offset":0.6875,"color":"#000"},{"offset":0.7083,"color":"#000"},{"offset":0.7083,"color":"#fff"},{"offset":0.7292,"color":"#fff"},{"offset":0.7292,"color":"#000"},{"offset":0.75,"color":"#000"},{"offset":0.75,"color":"#fff"},{"offset":0.7708,"color":"#fff"},{"offset":0.7708,"color":"#000"},{"offset":0.7917,"color":"#000"},{"offset":0.7917,"color":"#fff"},{"offset":0.8125,"color":"#fff"},{"offset":0.8125,"color":"#000"},{"offset":0.8333,"color":"#000"},{"offset":0.8333,"color":"#fff"},{"offset":0.8542,"color":"#fff"},{"offset":0.8542,"color":"#000"},{"offset":0.875,"color":"#000"},{"offset":0.875,"color":"#fff"},{"offset":0.8958,"color":"#fff"},{"offset":0.8958,"color":"#000"},{"offset":0.9167,"color":"#000"},{"offset":0.9167,"color":"#fff"},{"offset":0.9375,"color":"#fff"},{"offset":0.9375,"color":"#000"},{"offset":0.9583,"color":"#000"},{"offset":0.9583,"color":"#fff"},{"offset":0.9792,"color":"#fff"},{"offset":0.9792,"color":"#000"},{"offset":1,"color":"#000"}]}},"encoding":{"y":{"field":"value","type":"quantitative","title":"Luciferase-Activity (c.p.s.)"},"y2":{"datum":10}}},
           {"data":{"name":"C"},"transform":[{"filter":"datum.trt === 'c07' || datum.trt === 'c08'"}],"mark":{"type":"bar","strokeWidth":0,"blend":"difference","fill":{"gradient":"linear","x1":0,"y1":0,"x2":1,"y2":0,"stops":[{"offset":0,"color":"#000"},{"offset":0.1667,"color":"#000"},{"offset":0.1667,"color":"#fff"},{"offset":0.3333,"color":"#fff"},{"offset":0.3333,"color":"#000"},{"offset":0.5,"color":"#000"},{"offset":0.5,"color":"#fff"},{"offset":0.6667,"color":"#fff"},{"offset":0.6667,"color":"#000"},{"offset":0.8333,"color":"#000"},{"offset":0.8333,"color":"#fff"},{"offset":1,"color":"#fff"}]}},"encoding":{"y":{"field":"value","type":"quantitative","title":"Luciferase-Activity (c.p.s.)"},"y2":{"datum":10}}},
           {"data":{"name":"C"},"transform":[{"filter":"datum.trt === 'c07'"}],"mark":{"type":"bar","strokeWidth":0,"fill":"#ffffff","fillOpacity":0.72},"encoding":{"y":{"field":"value","type":"quantitative","title":"Luciferase-Activity (c.p.s.)"},"y2":{"datum":10}}},
           {"data":{"name":"C"},"mark":{"type":"bar","fillOpacity":0,"stroke":"black","strokeWidth":1},"encoding":{"y":{"field":"value","type":"quantitative","title":"Luciferase-Activity (c.p.s.)"},"y2":{"datum":10}}},
           {"data":{"name":"C"},"mark":{"type":"rule","color":"black","strokeWidth":1.5},"encoding":{"y":{"field":"lo","type":"quantitative","title":"Luciferase-Activity (c.p.s.)"},"y2":{"field":"hi"}}},
           {"data":{"name":"C"},"mark":{"type":"tick","orient":"horizontal","color":"black","size":8,"thickness":1.5},"encoding":{"y":{"field":"hi","type":"quantitative","title":"Luciferase-Activity (c.p.s.)"}}},
           {"data":{"name":"C"},"transform":[{"filter":"datum.lo > 100"}],"mark":{"type":"tick","orient":"horizontal","color":"black","size":8,"thickness":1.5},"encoding":{"y":{"field":"lo","type":"quantitative","title":"Luciferase-Activity (c.p.s.)"}}},
           {"data":{"name":"Cbr"},"mark":{"type":"line","color":"black","strokeWidth":1.5},"encoding":{"y":{"field":"value","type":"quantitative","title":"Luciferase-Activity (c.p.s.)"},"order":{"field":"ord","type":"quantitative"},"detail":{"field":"br","type":"nominal"}}},
           {"data":{"name":"Cp"},"mark":{"type":"text","color":"black","font":"Liberation Serif","fontSize":9.5,"fontWeight":"bold","dx":1.5,"baseline":"middle"},"encoding":{"y":{"field":"value","type":"quantitative","title":"Luciferase-Activity (c.p.s.)"},"text":{"field":"label"}}}
          ]
         }
        ]
       },
       {
        "width":471,"height":92,
        "view":{"stroke":"black","strokeWidth":2},
        "data":{"name":"LC"},
        "encoding":{
         "x":{"field":"col","type":"quantitative","scale":{"domain":[0,1,2],"range":[18,130,278]},"axis":null},
         "y":{"field":"row","type":"quantitative","scale":{"domain":[0,1,2],"range":[26,49,73]},"axis":null}
        },
        "layer":[
         {"mark":{"type":"square","size":56,"xOffset":4,"stroke":"black","strokeWidth":1,"opacity":1},"encoding":{"fill":{"field":"trt","type":"nominal","legend":null,"scale":{"domain":["c01","c02","c03","c04","c05","c06","c07","c08","c09"],"range":["#ffffff","#ffffff","#ffffff","#b0b0b0","#8c8c8c","#747474","#d4d4d4","#4a4a4a","#000000"]}}}},
         {"transform":[{"filter":"datum.trt === 'c02'"}],"mark":{"type":"square","size":56,"xOffset":4,"stroke":"black","strokeWidth":1,"opacity":1,"fill":{"gradient":"linear","x1":0,"y1":0,"x2":1,"y2":0,"stops":[{"offset":0,"color":"#000"},{"offset":0.5,"color":"#000"},{"offset":0.5,"color":"#fff"},{"offset":1,"color":"#fff"}]}}},
         {"transform":[{"filter":"datum.trt === 'c03'"}],"mark":{"type":"square","size":56,"xOffset":4,"opacity":1,"strokeWidth":0,"fill":{"gradient":"linear","x1":0,"y1":0,"x2":0,"y2":1,"stops":[{"offset":0,"color":"#fff"},{"offset":0.5,"color":"#fff"},{"offset":0.5,"color":"#000"},{"offset":1,"color":"#000"}]}}},
         {"transform":[{"filter":"datum.trt === 'c03'"}],"mark":{"type":"square","size":56,"xOffset":4,"opacity":1,"strokeWidth":0,"blend":"difference","fill":{"gradient":"linear","x1":0,"y1":0,"x2":1,"y2":0,"stops":[{"offset":0,"color":"#fff"},{"offset":0.5,"color":"#fff"},{"offset":0.5,"color":"#000"},{"offset":1,"color":"#000"}]}}},
         {"transform":[{"filter":"datum.trt === 'c03'"}],"mark":{"type":"square","size":56,"xOffset":4,"fillOpacity":0,"stroke":"black","strokeWidth":1}},
         {"mark":{"type":"text","align":"left","baseline":"middle","dx":12,"font":"Liberation Serif","fontSize":13,"fontWeight":"bold","color":"black"},"encoding":{"text":{"field":"label"}}}
        ]
       }
      ]
     }
    ]
   }
  ]
 }
]
}
